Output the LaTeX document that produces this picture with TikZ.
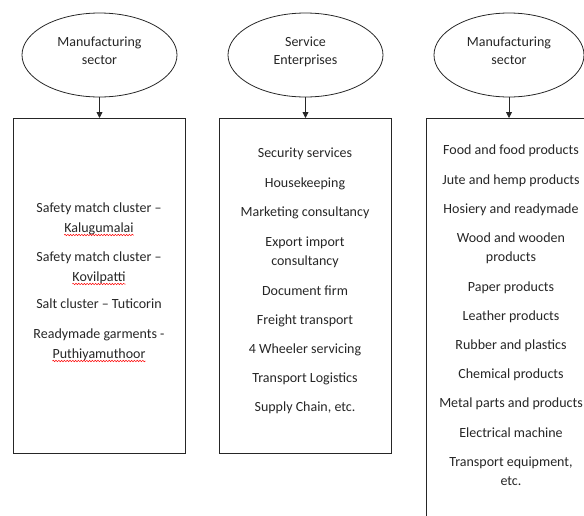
\documentclass[tikz,border=0pt]{standalone}
\usepackage{fontspec}
\setmainfont{Carlito}
\usetikzlibrary{shapes.geometric,arrows.meta,decorations.pathmorphing}
\begin{document}
\begin{tikzpicture}[x=1pt,y=-1pt,
  bubble/.style={draw=black!85,line width=0.8pt,ellipse,minimum width=155pt,minimum height=84pt,inner sep=0pt},
  panel/.style={draw=black!85,line width=0.8pt,anchor=north west,inner sep=0pt},
  txt/.style={anchor=base,inner sep=0pt,font=\fontsize{14}{17}\selectfont,text=black!85},
  link/.style={draw=black!85,line width=0.8pt,-{Triangle[length=6pt,width=6pt]}},
  squig/.style={draw=red,line width=0.5pt,decorate,decoration={snake,amplitude=0.7pt,segment length=2.8pt}}
]
\useasboundingbox (0,0) rectangle (584,515);
\clip (0,0) rectangle (584,515);

% ellipses
\node[bubble] (e1) at (99.5,55) {};
\node[bubble] (e2) at (305.5,55) {};
\node[bubble,minimum width=150pt] (e3) at (509,55) {};
\node[txt] (e1a) at (99.5,46) {Manufacturing};
\node[txt] (e1b) at (99.5,64) {sector};
\node[txt] (e2a) at (305.5,46) {Service};
\node[txt] (e2b) at (305.5,64) {Enterprises};
\node[txt] (e3a) at (509,46) {Manufacturing};
\node[txt] (e3b) at (509,64) {sector};

% panels
\node[panel,minimum width=172pt,minimum height=335pt] (b1) at (13,118) {};
\node[panel,minimum width=172pt,minimum height=335pt] (b2) at (219,118) {};
\node[panel,minimum width=170pt,minimum height=420pt] (b3) at (426,118) {};

% arrows
\draw[link] (e1.south) -- (e1.south |- b1.north);
\draw[link] (e2.south) -- (e2.south |- b2.north);
\draw[link] (e3.south) -- (e3.south |- b3.north);

% panel 1 text
\foreach \t/\y [count=\i] in {Safety match cluster –/212, Kalugumalai/232, Safety match cluster –/261, Kovilpatti/281, Salt cluster – Tuticorin/308, Readymade garments -/338, Puthiyamuthoor/358}
  \node[txt] (pa\i) at (99,\y) {\t};

% panel 2 text
\foreach \t/\y [count=\i] in {Security services/157, Housekeeping/187, Marketing consultancy/216, Export import/246, consultancy/265, Document firm/295, Freight transport/324, 4 Wheeler servicing/353, Transport Logistics/382, {Supply Chain, etc.}/411}
  \node[txt] (pb\i) at (305,\y) {\t};

% panel 3 text
\foreach \t/\y [count=\i] in {Food and food products/154, Jute and hemp products/184, Hosiery and readymade/213, Wood and wooden/242, products/261, Paper products/291, Leather products/320, Rubber and plastics/349, Chemical products/378, Metal parts and products/407, Electrical machine/437, {Transport equipment,}/466, etc./485}
  \node[txt] (pc\i) at (511,\y) {\t};

% spell-check squiggles
\foreach \n in {pa2,pa4,pa7}
  \draw[squig] ([yshift=-3pt]\n.base west) -- ([yshift=-3pt]\n.base east);
\end{tikzpicture}
\end{document}
